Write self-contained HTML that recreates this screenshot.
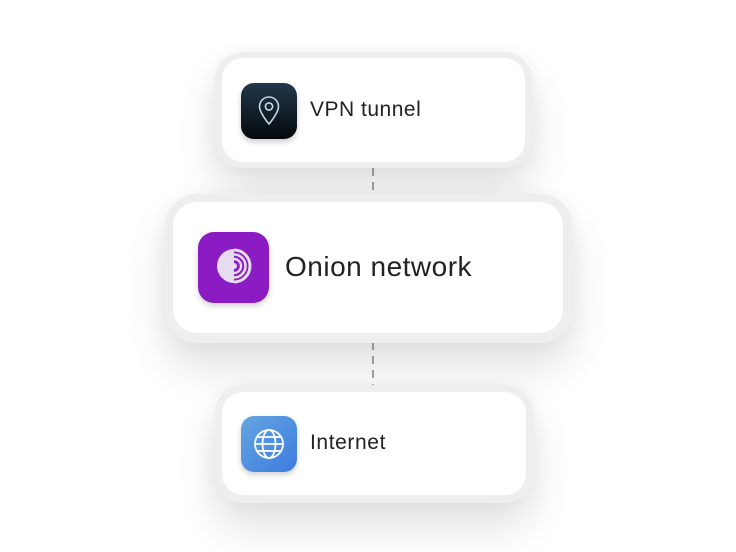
<!DOCTYPE html>
<html><head><meta charset="utf-8">
<style>
html,body{margin:0;padding:0;background:#fff;}
body{width:736px;height:552px;position:relative;overflow:hidden;font-family:"Liberation Sans",Arial,sans-serif;}
.halo{position:absolute;background:#eeeeef;box-shadow:0 24px 42px rgba(0,0,0,0.12),0 0 18px rgba(0,0,0,0.04);}
.card{position:absolute;background:#fff;}
.icon{position:absolute;overflow:hidden;}
.lbl{position:absolute;color:#222;white-space:nowrap;line-height:1;}
.dash{position:absolute;left:372px;width:2px;background:repeating-linear-gradient(to bottom,#a8a8a8 0 8px,transparent 8px 14px);}
</style></head><body>

<div class="dash" style="top:168px;height:34px;"></div>
<div class="dash" style="top:342px;height:48px;"></div>

<!-- Card 1 -->
<div class="halo" style="left:215px;top:52px;width:317px;height:116px;border-radius:28px;"></div>
<div class="card" style="left:222px;top:58px;width:303px;height:104px;border-radius:21px;"></div>
<div class="icon" style="left:241px;top:83px;width:56px;height:56px;border-radius:13px;background:linear-gradient(#22384a,#04080c);box-shadow:0 3px 6px rgba(0,0,0,0.2);">
<svg width="56" height="56" viewBox="0 0 56 56"><path d="M28 41 C28 41 18.5 30 18.5 23.5 A9.5 9.5 0 0 1 37.5 23.5 C37.5 30 28 41 28 41 Z" fill="none" stroke="#c5d7ea" stroke-width="1.6" stroke-linejoin="round"/><circle cx="28" cy="23.5" r="3.6" fill="none" stroke="#c5d7ea" stroke-width="1.6"/></svg>
</div>
<div class="lbl" style="left:310px;top:99px;font-size:21px;letter-spacing:0.5px;">VPN tunnel</div>

<!-- Card 2 -->
<div class="halo" style="left:165px;top:194px;width:407px;height:149px;border-radius:32px;"></div>
<div class="card" style="left:173px;top:202px;width:390px;height:131px;border-radius:24px;"></div>
<div class="icon" style="left:198px;top:232px;width:71px;height:71px;border-radius:16px;background:#8b1bc2;box-shadow:0 3px 6px rgba(0,0,0,0.18);">
<svg width="71" height="71" viewBox="0 0 71 71"><path d="M36 17 A17 17 0 0 0 36 51 Z" fill="#e7dbef"/><path d="M36 18 A16 16 0 0 1 36 50" fill="none" stroke="#e7dbef" stroke-width="3"/><path d="M36 22.5 A11.5 11.5 0 0 1 36 45.5" fill="none" stroke="#e7dbef" stroke-width="2.6"/><path d="M36 27 A7 7 0 0 1 36 41" fill="none" stroke="#e7dbef" stroke-width="2.4"/><path d="M36 31 A3 3 0 0 1 36 37 Z" fill="#e7dbef"/></svg>
</div>
<div class="lbl" style="left:285px;top:253px;font-size:28px;letter-spacing:0.5px;">Onion network</div>

<!-- Card 3 -->
<div class="halo" style="left:215px;top:385px;width:318px;height:118px;border-radius:28px;"></div>
<div class="card" style="left:222px;top:392px;width:304px;height:103px;border-radius:21px;"></div>
<div class="icon" style="left:241px;top:416px;width:56px;height:56px;border-radius:13px;background:linear-gradient(135deg,#64a6df,#3d7be0);box-shadow:0 3px 6px rgba(0,0,0,0.18);">
<svg width="56" height="56" viewBox="0 0 56 56" fill="none" stroke="#fff" stroke-width="1.8"><circle cx="28" cy="28" r="14"/><ellipse cx="28" cy="28" rx="6.5" ry="14"/><line x1="14" y1="28" x2="42" y2="28"/><line x1="16" y1="21" x2="40" y2="21"/><line x1="16" y1="35" x2="40" y2="35"/></svg>
</div>
<div class="lbl" style="left:310px;top:432px;font-size:21px;letter-spacing:0.6px;">Internet</div>

</body></html>
